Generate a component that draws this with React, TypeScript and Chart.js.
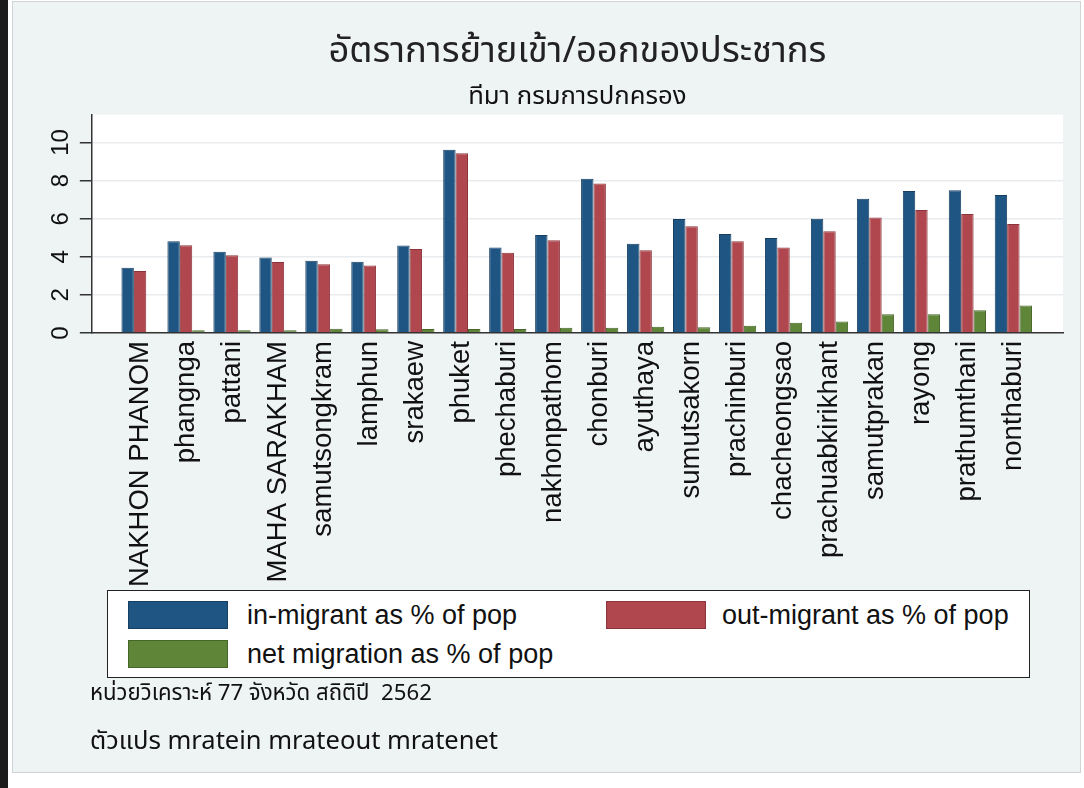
import React, { useEffect, useRef } from "react";
import { Chart, registerables } from "chart.js";

Chart.register(...registerables);

const categories = [
  "NAKHON PHANOM", "phangnga", "pattani", "MAHA SARAKHAM", "samutsongkram",
  "lamphun", "srakaew", "phuket", "phechaburi", "nakhonpathom",
  "chonburi", "ayuthaya", "sumutsakorn", "prachinburi", "chacheongsao",
  "prachuabkirikhant", "samutprakan", "rayong", "prathumthani", "nonthaburi",
];
const inMigrant = [3.42, 4.82, 4.26, 3.96, 3.79, 3.74, 4.59, 9.62, 4.49, 5.15, 8.10, 4.68, 5.98, 5.20, 4.99, 6.00, 7.05, 7.45, 7.50, 7.24];
const outMigrant = [3.26, 4.61, 4.08, 3.73, 3.61, 3.54, 4.41, 9.44, 4.21, 4.87, 7.85, 4.35, 5.60, 4.82, 4.49, 5.34, 6.06, 6.46, 6.25, 5.72];
const netMigration = [0.07, 0.15, 0.14, 0.15, 0.22, 0.20, 0.21, 0.21, 0.21, 0.27, 0.28, 0.33, 0.30, 0.38, 0.54, 0.61, 0.98, 0.98, 1.19, 1.45];
const seriesLabels = ["in-migrant as % of pop", "out-migrant as % of pop", "net migration as % of pop"];
const seriesColors = ["#1f5583", "#b1474e", "#5f8638"];
const seriesBorders = ["#173f62", "#8a353b", "#466528"];
const yTicks = [0, 2, 4, 6, 8, 10];
const titleText = "อัตราการย้ายเข้า/ออกของประชากร";
const subtitleText = "ทีมา กรมการปกครอง";
const note1 = "หน่วยวิเคราะห์ 77 จังหวัด สถิติปี  2562";
const note2 = "ตัวแปร mratein mrateout mratenet";

const LATIN = "'Liberation Sans', Arial, Helvetica, sans-serif";
const THAI = "'Noto Sans Thai', 'Noto Sans Thai UI', Loma, Garuda, 'Tlwg Typist', 'Liberation Sans', 'Noto Sans', sans-serif";

const plotBg = {
  id: "plotBg",
  beforeDraw(chart: any) {
    const { ctx, chartArea } = chart;
    ctx.save();
    ctx.fillStyle = "#ffffff";
    ctx.fillRect(chartArea.left, chartArea.top, chartArea.right - chartArea.left, chartArea.bottom - chartArea.top);
    ctx.restore();
  },
};

function BarChart() {
  const ref = useRef<HTMLCanvasElement | null>(null);
  useEffect(() => {
    if (!ref.current) return;
    const series = [inMigrant, outMigrant, netMigration];
    const chart = new Chart(ref.current, {
      type: "bar",
      data: {
        datasets: series.map((arr, k) => ({
          label: seriesLabels[k],
          data: arr.map((v, i) => ({ x: i, y: v })),
          backgroundColor: seriesColors[k],
          borderColor: seriesBorders[k],
          borderWidth: 1,
          categoryPercentage: 0.81,
          barPercentage: 1.0,
        })),
      },
      options: {
        animation: false,
        responsive: false,
        maintainAspectRatio: false,
        layout: { padding: { left: 41, right: 21, top: 0, bottom: 0 } },
        plugins: {
          legend: { display: false },
          tooltip: { enabled: false },
          title: {
            display: true,
            text: titleText,
            fullSize: false,
            color: "#222",
            font: { family: THAI, size: 36.4, weight: "normal" },
            padding: { top: 33, bottom: 3 },
          },
          subtitle: {
            display: true,
            text: subtitleText,
            fullSize: false,
            color: "#111",
            font: { family: THAI, size: 25.7, weight: "normal" },
            padding: { top: 4, bottom: 0 },
          },
        },
        scales: {
          x: {
            type: "linear",
            offset: false,
            min: -1.05,
            max: 20.08,
            afterBuildTicks: (scale: any) => {
              scale.ticks = categories.map((_, i) => ({ value: i }));
            },
            grid: { display: false, drawTicks: false, offset: false },
            border: { display: true, color: "#333", width: 1.5 },
            ticks: {
              autoSkip: false,
              minRotation: 90,
              maxRotation: 90,
              padding: 8,
              color: "#111",
              font: { family: LATIN, size: 27.5 },
              callback: (v: any) => {
                const n = Number(v);
                return Number.isInteger(n) && n >= 0 && n < categories.length ? categories[n] : "";
              },
            },
          },
          y: {
            min: 0,
            max: 11.47,
            afterBuildTicks: (scale: any) => {
              scale.ticks = yTicks.map((v) => ({ value: v }));
            },
            grid: { color: "#e8ecee", lineWidth: 1.5, tickColor: "#333", tickLength: 12, drawTicks: true },
            border: { display: true, color: "#333", width: 1.5 },
            ticks: {
              minRotation: 90,
              maxRotation: 90,
              crossAlign: "center",
              padding: 5,
              color: "#111",
              font: { family: LATIN, size: 24 },
            },
          },
        },
      },
      plugins: [plotBg],
    });
    return () => chart.destroy();
  }, []);
  return <canvas ref={ref} width={1084} height={595} style={{ position: "absolute", left: 0, top: 0, width: 1084, height: 595 }} />;
}

export default function App() {
  const legendPos = [
    { sx: 128, sy: 601, tx: 247 },
    { sx: 606, sy: 601, tx: 722 },
    { sx: 128, sy: 640, tx: 247 },
  ];
  return (
    <div style={{ position: "absolute", left: 0, top: 0, width: 1084, height: 788, background: "#ffffff", overflow: "hidden" }}>
      <div style={{ position: "absolute", left: 0, top: 0, width: 8, height: 788, background: "#1b1b1b" }} />
      <div style={{ position: "absolute", left: 12, top: 1, width: 1067, height: 770, background: "#eef3f4", border: "1px solid #cfd5d7" }} />
      <BarChart />
      <div style={{ position: "absolute", left: 107, top: 590, width: 921, height: 86, background: "#ffffff", border: "1.5px solid #222" }} />
      {seriesLabels.map((lab, k) => (
        <React.Fragment key={lab}>
          <div style={{ position: "absolute", left: legendPos[k].sx, top: legendPos[k].sy, width: 100, height: 28, background: seriesColors[k], border: `1px solid ${seriesBorders[k]}`, boxSizing: "border-box" }} />
          <div style={{ position: "absolute", left: legendPos[k].tx, top: legendPos[k].sy - 2, height: 32, lineHeight: "32px", fontFamily: LATIN, fontSize: 27, color: "#111", whiteSpace: "nowrap" }}>{lab}</div>
        </React.Fragment>
      ))}
      <div style={{ position: "absolute", left: 90, top: 679, height: 28, lineHeight: "28px", fontFamily: THAI, fontSize: 22.2, color: "#111", whiteSpace: "pre" }}>{note1}</div>
      <div style={{ position: "absolute", left: 90, top: 724, height: 34, lineHeight: "34px", fontFamily: THAI, fontSize: 25.5, color: "#111", whiteSpace: "pre" }}>{note2}</div>
    </div>
  );
}
